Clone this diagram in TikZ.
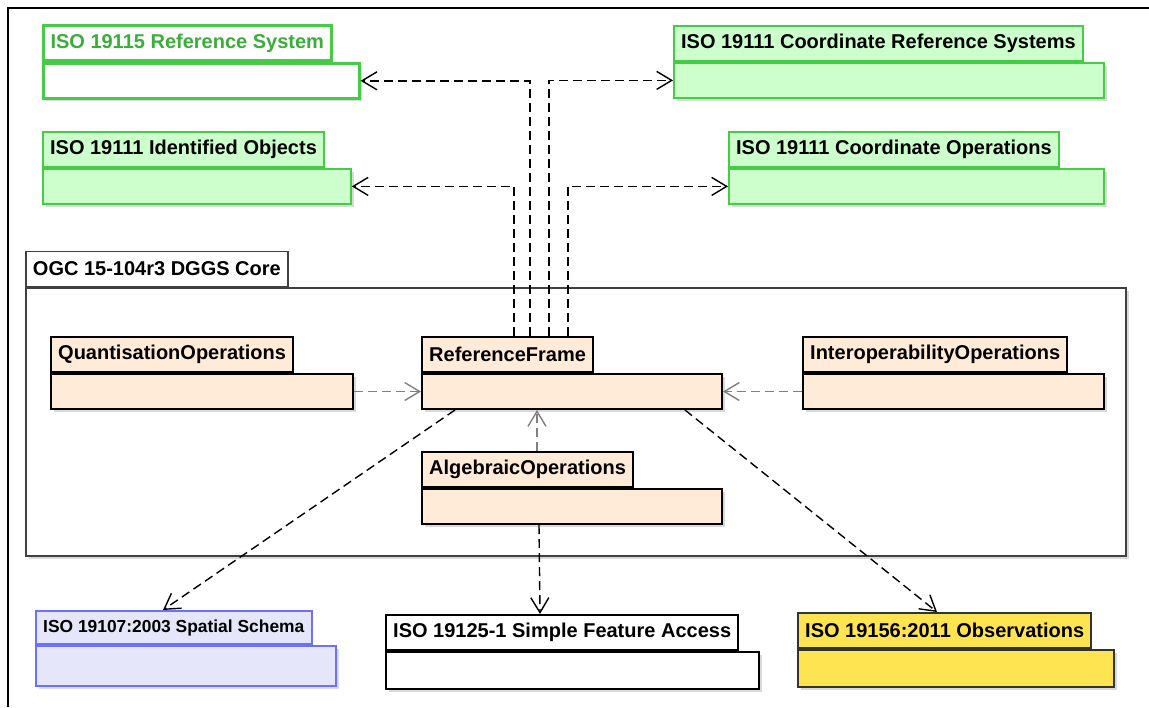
\documentclass[tikz,border=0pt]{standalone}
\usepackage{fontspec}
\setmainfont{Liberation Sans}
\usepackage{tikz}
\usetikzlibrary{arrows.meta,positioning,shadows}
\definecolor{pkggreen}{HTML}{44CC44}
\definecolor{pkglightgreen}{HTML}{CCFFCC}
\definecolor{pkgpeach}{HTML}{FFEBD7}
\definecolor{pkglavender}{HTML}{E6E6FA}
\definecolor{pkgblue}{HTML}{6E6EFF}
\definecolor{pkgyellow}{HTML}{FFE451}
\newcommand{\pkgfont}{\fontsize{10pt}{12pt}\selectfont\bfseries}
\newcommand{\smallpkgfont}{\fontsize{8.7pt}{10pt}\selectfont\bfseries}

\tikzset{
  body/.style={draw, line width=1pt, minimum height=17.5pt, anchor=north west,
    inner sep=0pt,
    drop shadow={shadow xshift=1.5pt, shadow yshift=-1.5pt, fill=black,
      opacity=0.15}},
  tab/.style={draw, line width=1pt, minimum height=17.5pt, anchor=south west,
    inner xsep=3.6pt, inner ysep=0pt, font=\pkgfont},
  iso/.style={draw=pkggreen, fill=pkglightgreen, line width=0.9pt},
  dggs/.style={fill=pkgpeach},
  dep/.style={->, dash pattern=on 4.5pt off 2.5pt, line width=0.7pt},
  >={Straight Barb[length=7.5pt,width=9pt]}
}

\begin{document}
\begin{tikzpicture}[x=0.5pt,y=-0.5pt]
  \useasboundingbox (0,0) rectangle (1149,707);
  \draw [line width=1.2pt] (8,707) -- (8,8) -- (1149,8);

  % outer package
  \node [body, draw=black!75, fill=white, line width=0.75pt,
    minimum width=550pt, minimum height=134pt] (core) at (25,287) {};
  \node [tab, draw=black!75, fill=white, line width=0.75pt] (core-tab)
    at (core.north west) {OGC 15-104r3 DGGS Core};

  % ISO packages above
  \node [body, draw=pkggreen, fill=white, line width=1.3pt,
    minimum width=158pt] (refsys) at (42,62) {};
  \node [tab, draw=pkggreen, fill=white, line width=1.3pt,
    text=pkggreen!85!black] (refsys-tab)
    at (refsys.north west) {ISO 19115 Reference System};
  \node [body, iso, minimum width=215pt] (crs) at (673,62) {};
  \node [tab, iso] (crs-tab)
    at (crs.north west) {ISO 19111 Coordinate Reference Systems};
  \node [body, iso, minimum width=154pt] (idobj) at (42,168) {};
  \node [tab, iso] (idobj-tab)
    at (idobj.north west) {ISO 19111 Identified Objects};
  \node [body, iso, minimum width=187.5pt] (coordops) at (728,168) {};
  \node [tab, iso] (coordops-tab)
    at (coordops.north west) {ISO 19111 Coordinate Operations};

  % DGGS core packages
  \node [body, dggs, minimum width=151pt] (quant) at (50,373) {};
  \node [tab, dggs] (quant-tab)
    at (quant.north west) {QuantisationOperations};
  \node [body, dggs, minimum width=150pt] (refframe) at (421,373) {};
  \node [tab, dggs] (refframe-tab)
    at (refframe.north west) {ReferenceFrame};
  \node [body, dggs, minimum width=150.5pt] (interop) at (802,373) {};
  \node [tab, dggs] (interop-tab)
    at (interop.north west) {InteroperabilityOperations};
  \node [body, dggs, minimum width=150pt] (algebra) at (421,488) {};
  \node [tab, dggs] (algebra-tab)
    at (algebra.north west) {AlgebraicOperations};

  % packages below
  \node [body, draw=pkgblue, fill=pkglavender, minimum width=150pt,
    minimum height=20pt] (spatial) at (35,645) {};
  \node [tab, draw=pkgblue, fill=pkglavender, minimum height=16.5pt,
    font=\smallpkgfont] (spatial-tab)
    at (spatial.north west) {ISO 19107:2003 Spatial Schema};
  \node [body, fill=white, minimum width=186.5pt,
    minimum height=18.5pt] (sfa) at (385,651) {};
  \node [tab, fill=white] (sfa-tab)
    at (sfa.north west) {ISO 19125-1 Simple Feature Access};
  \node [body, draw=black!80, fill=pkgyellow, minimum width=158pt,
    minimum height=18.5pt] (obs) at (797,649) {};
  \node [tab, draw=black!80, fill=pkgyellow] (obs-tab)
    at (obs.north west) {ISO 19156:2011 Observations};

  % dependencies
  \draw [dep] ([xshift=46.5pt]refframe-tab.north west) |- (idobj.east);
  \draw [dep] ([xshift=54.5pt]refframe-tab.north west) |- (refsys.east);
  \draw [dep] ([xshift=64pt]refframe-tab.north west) |- (crs.west);
  \draw [dep] ([xshift=73.5pt]refframe-tab.north west) |- (coordops.west);
  \draw [dep, draw=gray] (quant.east) -- (refframe.west);
  \draw [dep, draw=gray] (interop.west) -- (refframe.east);
  \draw [dep, draw=gray] ([xshift=58pt]algebra-tab.north west)
    -- ([xshift=58pt]refframe.south west);
  \draw [dep] ([xshift=17pt]refframe.south west)
    -- ([xshift=64pt]spatial-tab.north west);
  \draw [dep] ([xshift=-19pt]refframe.south east)
    -- ([xshift=70pt]obs-tab.north west);
  \draw [dep] ([xshift=59pt]algebra.south west)
    -- ([xshift=77.5pt]sfa-tab.north west);
\end{tikzpicture}
\end{document}
